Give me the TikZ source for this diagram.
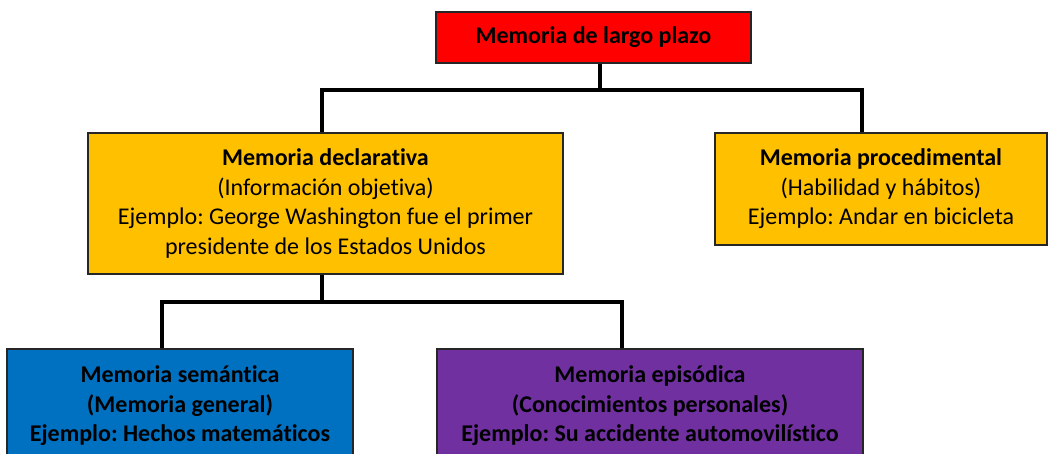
\documentclass[tikz,border=0pt]{standalone}
\usepackage{fontspec}
\setmainfont[Ligatures=NoCommon]{Carlito}
\frenchspacing
\definecolor{topred}{HTML}{FF0000}
\definecolor{gold}{HTML}{FFC000}
\definecolor{semblue}{HTML}{0070C0}
\definecolor{epipurple}{HTML}{7030A0}
\begin{document}
\begin{tikzpicture}[x=1pt,y=-1pt,
  box/.style={draw=black!85,line width=1.3pt,align=center,inner sep=0pt,
    font=\fontsize{24}{29.5}\selectfont\frenchspacing,text=black},
  link/.style={line width=3.6pt,black}]
\useasboundingbox (0,0) rectangle (1048,454);
\node[box,fill=topred,minimum width=315,minimum height=51] (top) at (593.5,37.5) {\textbf{Memoria de largo plazo}};
\node[box,fill=gold,minimum width=475,minimum height=141] (decl) at (325.5,203.5)
  {\textbf{Memoria declarativa}\\(Información objetiva)\\Ejemplo: George Washington fue el primer\\presidente de los Estados Unidos};
\node[box,fill=gold,minimum width=332,minimum height=112] (proc) at (881,189)
  {\textbf{Memoria procedimental}\\(Habilidad y hábitos)\\Ejemplo: Andar en bicicleta};
\node[box,fill=semblue,minimum width=346,minimum height=114] (sem) at (180,406)
  {\textbf{Memoria semántica}\\\textbf{(Memoria general)}\\\textbf{Ejemplo: Hechos matemáticos}};
\node[box,fill=epipurple,minimum width=426,minimum height=114] (epi) at (650,406)
  {\textbf{Memoria episódica}\\\textbf{(Conocimientos personales)}\\\textbf{Ejemplo: Su accidente automovilístico}};
\coordinate (j0) at (600,90);
\coordinate (j1) at (322,90);
\coordinate (j2) at (862,90);
\coordinate (k1) at (162,302);
\coordinate (k2) at (622,302);
\draw[link] (j0 |- top.south) -- (j0);
\draw[link] (j1 |- decl.north) -- (j1) -- (j2) -- (j2 |- proc.north);
\draw[link] (j1 |- decl.south) -- (j1 |- k1);
\draw[link] (k1 |- sem.north) -- (k1) -- (k2) -- (k2 |- epi.north);
\end{tikzpicture}
\end{document}
